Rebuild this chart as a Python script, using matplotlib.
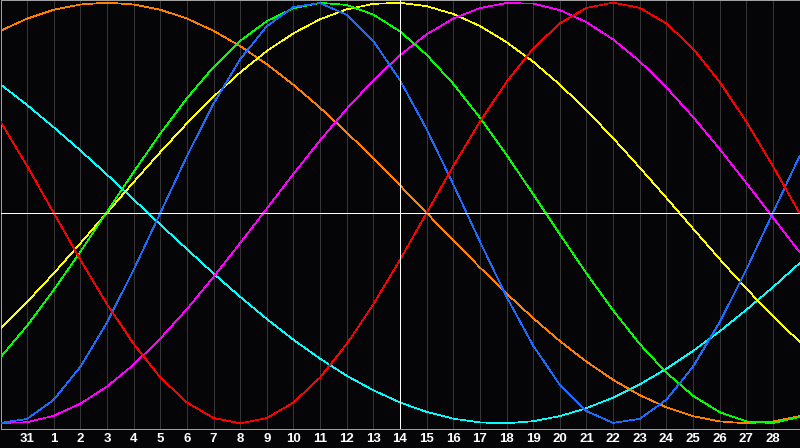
import matplotlib
matplotlib.use("Agg")
import matplotlib.pyplot as plt

# day labels under the grid lines (positions 1..29), 14 is the centre day
day_labels = ["31"] + [str(d) for d in range(1, 29)]

# cycle values, one per grid position 0..30
red = [0.434, 0.223, -0.000, -0.223, -0.434, -0.623, -0.782, -0.901, -0.975, -1.000, -0.975, -0.901, -0.782, -0.623, -0.434, -0.223, 0.000, 0.223, 0.434, 0.623, 0.782, 0.901, 0.975, 1.000, 0.975, 0.901, 0.782, 0.623, 0.434, 0.223, 0.000]
blue = [-0.998, -0.979, -0.888, -0.731, -0.520, -0.270, 0.000, 0.270, 0.520, 0.731, 0.888, 0.979, 0.998, 0.942, 0.817, 0.631, 0.398, 0.136, -0.136, -0.398, -0.631, -0.817, -0.942, -0.998, -0.979, -0.888, -0.731, -0.520, -0.270, -0.000, 0.270]
green = [-0.686, -0.536, -0.366, -0.184, 0.006, 0.195, 0.377, 0.545, 0.694, 0.818, 0.912, 0.973, 0.999, 0.989, 0.943, 0.863, 0.752, 0.614, 0.453, 0.276, 0.089, -0.101, -0.287, -0.463, -0.623, -0.759, -0.869, -0.947, -0.991, -0.999, -0.970]
magenta = [-0.998, -0.995, -0.964, -0.907, -0.825, -0.721, -0.597, -0.457, -0.304, -0.143, 0.021, 0.186, 0.345, 0.495, 0.631, 0.750, 0.849, 0.924, 0.974, 0.998, 0.995, 0.964, 0.907, 0.825, 0.721, 0.597, 0.457, 0.304, 0.143, -0.021, -0.186]
yellow = [-0.551, -0.423, -0.287, -0.144, 0.001, 0.147, 0.289, 0.426, 0.553, 0.668, 0.770, 0.854, 0.921, 0.968, 0.994, 0.999, 0.983, 0.946, 0.889, 0.812, 0.719, 0.610, 0.488, 0.356, 0.216, 0.072, -0.074, -0.219, -0.359, -0.491, -0.612]
orange = [0.866, 0.924, 0.966, 0.991, 1.000, 0.991, 0.966, 0.924, 0.866, 0.793, 0.707, 0.609, 0.500, 0.383, 0.259, 0.131, 0.000, -0.131, -0.259, -0.383, -0.500, -0.609, -0.707, -0.793, -0.866, -0.924, -0.966, -0.991, -1.000, -0.991, -0.966]
cyan = [0.611, 0.513, 0.407, 0.297, 0.182, 0.064, -0.055, -0.172, -0.288, -0.399, -0.504, -0.603, -0.693, -0.774, -0.843, -0.901, -0.946, -0.978, -0.996, -1.000, -0.990, -0.966, -0.928, -0.878, -0.815, -0.741, -0.656, -0.563, -0.461, -0.353, -0.239]

bg = '#050507'
fig = plt.figure(figsize=(8, 4.48), dpi=100, facecolor=bg)
ax = fig.add_axes([0.5 / 800, 19.5 / 448, 799 / 800, 428 / 448])
ax.set_facecolor(bg)

days = list(range(len(red)))
series = [(cyan, '#00ffff'), (orange, '#ff8000'), (yellow, '#ffff00'),
          (magenta, '#ff00ff'), (green, '#00ff00'), (blue, '#1a6cff'), (red, '#ff0000')]
for vals, col in series:
    ax.plot(days, vals, color=col, lw=0.5, antialiased=False, zorder=3)

# grid
for k in range(1, 30):
    if k != 15:
        ax.axvline(k, color='#353535', lw=0.6, antialiased=False, zorder=1)
ax.axvline(15, color='white', lw=0.6, antialiased=False, zorder=4)
ax.axhline(0, color='white', lw=0.6, antialiased=False, zorder=4)

ax.set_xlim(0, 30)
ax.set_ylim(-1.0247, 1.010)
ax.set_yticks([])
ax.set_xticks(range(1, 30))
ax.set_xticklabels(day_labels, color='white', fontsize=9.5, fontweight='bold',
                   family='Liberation Sans')
ax.tick_params(axis='x', length=0, pad=3.5)
for s in ax.spines.values():
    s.set_color('#a0a0a0')
    s.set_linewidth(0.6)
    s.set_antialiased(False)

fig.savefig('out.png', dpi=100, facecolor=bg)
